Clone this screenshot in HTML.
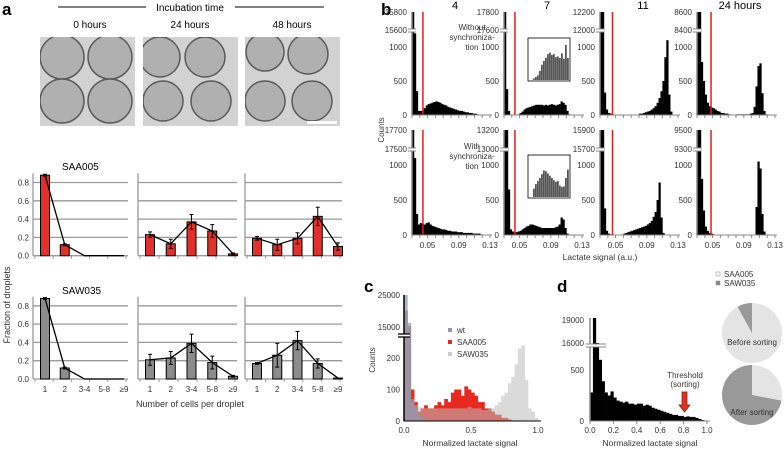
<!DOCTYPE html>
<html><head><meta charset="utf-8"><style>
body{margin:0;background:#fff}
svg{display:block;font-family:"Liberation Sans",Arial,sans-serif}
</style></head><body>
<svg id="fig" width="784" height="450" viewBox="0 0 784 450">
<g id="gA">
<text x="2" y="15" font-size="17" font-weight="bold">a</text>
<line x1="58" y1="7" x2="146" y2="7" stroke="#000" stroke-width="1"/>
<line x1="235" y1="7" x2="324" y2="7" stroke="#000" stroke-width="1"/>
<text x="190" y="11" font-size="10" text-anchor="middle">Incubation time</text>
<text x="90" y="28" font-size="10" text-anchor="middle">0 hours</text>
<text x="190" y="28" font-size="10" text-anchor="middle">24 hours</text>
<text x="292" y="28" font-size="10" text-anchor="middle">48 hours</text>
</g>
<g id="gB">
<text x="381" y="15" font-size="17" font-weight="bold">b</text>
</g>
<g id="gC"></g>
<g id="gD"></g>
</svg>
<script>
// ---------- panel a data ----------
const cellCats = ["1","2","3-4","5-8","≥9"];
const saa0 = [0.88,0.12,0,0,0];
const saa0e = [0.01,0.01,0,0,0];
const saa24 = [0.23,0.13,0.37,0.27,0.02];
const saa24e = [0.03,0.05,0.08,0.07,0.01];
const saa48 = [0.19,0.12,0.19,0.43,0.10];
const saa48e = [0.02,0.06,0.06,0.10,0.04];
const saw0 = [0.88,0.12,0,0,0];
const saw0e = [0.01,0.01,0,0,0];
const saw24 = [0.21,0.23,0.39,0.18,0.03];
const saw24e = [0.06,0.07,0.10,0.07,0.01];
const saw48 = [0.17,0.26,0.42,0.17,0.01];
const saw48e = [0.01,0.13,0.10,0.05,0.0];
const fracTicks = [0,0.2,0.4,0.6,0.8];
// ---------- panel b data (bins of 0.0025 from 0.03) ----------
const bTicks = [0.05,0.09,0.13];
const bTitles = ["4","7","11","24 hours"];
const hTop4 = [15800,1200,350,60,60,60,100,140,160,170,180,190,200,190,180,160,150,140,120,110,100,90,80,70,60,60,50,40,40,30,30,20,20,10,5,0,0,0,0,0];
const hTop7 = [17800,380,60,0,0,0,0,10,30,50,80,100,110,120,130,140,150,150,150,150,140,150,140,150,160,150,140,150,160,200,180,150,60,10,0,0,0,0,0,0];
const hTop11 = [12200,12000,330,80,30,20,10,5,0,0,0,0,0,5,0,0,0,5,0,0,20,20,30,40,50,60,80,100,130,180,250,350,500,850,1100,300,50,0,0,0];
const hTop24 = [8600,8600,780,500,300,180,130,110,100,80,60,50,30,30,20,20,10,5,0,0,10,10,10,10,10,10,10,20,30,120,420,720,760,320,60,10,0,0,0,0];
const hBot4 = [17700,1100,300,150,170,160,150,170,180,150,130,120,110,100,90,80,80,70,60,60,50,50,50,40,40,40,30,30,30,30,30,20,20,20,20,10,0,0,0,0];
const hBot7 = [13200,13000,650,80,50,40,40,50,60,80,100,120,130,150,150,140,130,120,110,100,100,100,100,100,100,100,110,120,150,250,220,100,20,0,0,0,0,0,0,0];
const hBot11 = [15900,15700,380,60,20,10,0,0,0,0,0,0,20,30,40,50,60,70,80,90,100,110,120,130,150,170,200,260,330,500,750,250,30,0,0,0,0,0,0,0];
const hBot24 = [9500,9500,800,350,120,60,30,20,10,5,0,0,0,0,0,0,0,0,0,0,0,0,0,0,0,0,0,0,0,0,400,1050,950,300,50,0,0,0,0,0];
const redLines = [0.044,0.044,0.046,0.048];
const topBreakLabels = [["15800","15600"],["17800","17600"],["12200","12000"],["8600","8400"]];
const botBreakLabels = [["17700","17500"],["13200","13000"],["15900","15700"],["9500","9300"]];
const inset1 = [20,40,60,120,200,250,290,340,360,330,340,300,310,290,350,280,460,290];
const inset2 = [110,170,210,250,300,350,340,310,280,250,220,200,210,150,130,140,250,360];
// ---------- panel c data (bins of 0.025 from 0) ----------
const cWt = [25000,16000,70,40,20,10,0,0,0,0,0,0,0,0,0,0,0,0,0,0,0,0,0,0,0,0,0,0,0,0,0,0,0,0,0,0,0,0,0,0];
const cSaa = [20000,15000,100,60,30,40,50,40,40,50,60,50,70,60,90,100,100,80,110,100,90,80,60,60,40,40,30,20,20,10,10,5,0,0,0,0,0,0,0,0];
const cSaw = [20000,15000,60,50,45,40,40,40,40,40,40,40,40,40,40,40,40,40,40,45,40,40,40,35,35,40,40,50,60,80,90,120,140,180,230,240,130,40,30,10];
const cTicksX = [0,0.5,1.0];
const cTicksY = [0,100,200];
// ---------- panel d data ----------
const dHist = [280,19000,16000,600,390,280,250,290,230,200,190,180,190,170,170,160,170,170,150,160,150,130,120,110,100,90,80,70,60,60,50,50,40,45,40,40,30,20,10,0];
const dTicksX = [0,0.2,0.4,0.6,0.8,1.0];
const pieBefore = [0.92,0.08];
const pieAfter = [0.28,0.72];

const NS="http://www.w3.org/2000/svg";
function mk(parent,tag,attrs,text){const e=document.createElementNS(NS,tag);for(const k in attrs)e.setAttribute(k,attrs[k]);if(text!==undefined)e.textContent=text;parent.appendChild(e);return e;}
const gA=document.getElementById('gA'),gB=document.getElementById('gB'),gC=document.getElementById('gC'),gD=document.getElementById('gD');

// micrographs
const micro=[[40,[[62,57,22],[110,57,22],[62,101,22],[110,101,22]]],[143,[[160,57,20],[205,57,20],[163,101,20],[211,101,20]]],[245,[[265,52,19],[308,54,20],[265,101,20],[312,101,20]]]];
micro.forEach((m,i)=>{
 const g=mk(gA,'g',{});
 
 
 mk(g,'rect',{x:m[0],y:37,width:95,height:89,fill:'#d2d2d2'});
 const cpE=mk(g,'clipPath',{id:'cp'+i});
 mk(cpE,'rect',{x:m[0],y:37,width:95,height:89});
 const gg=mk(g,'g',{'clip-path':'url(#cp'+i+')'});
 m[1].forEach(c=>{mk(gg,'circle',{cx:c[0],cy:c[1],r:c[2],fill:'#b0b0b0',stroke:'#5a5a5a','stroke-width':1.5});});
});
const sb=mk(gA,'rect',{x:307,y:121,width:30,height:3,fill:'#fff'});



// bar charts
function barPanel(x0,w,y0,vals,errs,color,showY,name){
 const g=mk(gA,'g',{});
 
 
 const ky=18.3/0.2;
 const Y=v=>y0-v*ky;
 const X=i=>x0+12+i*(w-16)/4;
 fracTicks.forEach(t=>{ if(t>0) mk(g,'line',{x1:x0,x2:x0+w,y1:Y(t),y2:Y(t),stroke:'#999','stroke-width':1.3});
  if(showY){const tl=mk(g,'text',{x:x0-4,y:Y(t)+3,'font-size':8,'text-anchor':'end',fill:'#333'},t.toFixed(1));}});
 mk(g,'line',{x1:x0,x2:x0,y1:Y(0.9),y2:y0,stroke:'#999','stroke-width':1.3});
 mk(g,'line',{x1:x0,x2:x0+w,y1:y0,y2:y0,stroke:'#999','stroke-width':1.3});
 for(let i=0;i<=5;i++){const tx=x0+2+i*(w-4)/5;mk(g,'line',{x1:tx,x2:tx,y1:y0,y2:y0+3,stroke:'#999'});}
 const pts=[];
 vals.forEach((v,i)=>{
  const b=mk(g,'rect',{x:X(i)-4.5,y:Y(v),width:9,height:y0-Y(v),fill:color,stroke:'#000','stroke-width':1});
  
  
  if(errs[i]>0){mk(g,'line',{x1:X(i),x2:X(i),y1:Y(v+errs[i]),y2:Y(v-errs[i]),stroke:'#000','stroke-width':1});
   mk(g,'line',{x1:X(i)-2,x2:X(i)+2,y1:Y(v+errs[i]),y2:Y(v+errs[i]),stroke:'#000'});
   mk(g,'line',{x1:X(i)-2,x2:X(i)+2,y1:Y(v-errs[i]),y2:Y(v-errs[i]),stroke:'#000'});}
  pts.push(X(i)+','+Y(v));
 });
 mk(g,'polyline',{points:pts.join(' '),fill:'none',stroke:'#000','stroke-width':1.3});
 return {g,X};
}
const px=[[33,95],[138,99],[245,97]];
const topSets=[[saa0,saa0e],[saa24,saa24e],[saa48,saa48e]];
const botSets=[[saw0,saw0e],[saw24,saw24e],[saw48,saw48e]];
topSets.forEach((s,i)=>barPanel(px[i][0],px[i][1],255.7,s[0],s[1],'#e2312a',i==0,'saa005-chart-'+i));
botSets.forEach((s,i)=>{const r=barPanel(px[i][0],px[i][1],379,s[0],s[1],'#8c8c8c',i==0,'saw035-chart-'+i);
 cellCats.forEach((c,j)=>{const t=mk(gA,'text',{x:r.X(j),y:392,'font-size':8,'text-anchor':'middle',fill:'#333'},c);});});
[['SAA005',170],['SAW035',294]].forEach(a=>{const t=mk(gA,'text',{x:62,y:a[1],'font-size':10},a[0]);});
let t=mk(gA,'text',{x:190,y:407,'font-size':9,'text-anchor':'middle',fill:'#333'},'Number of cells per droplet');

t=mk(gA,'text',{x:0,y:0,'font-size':9,'text-anchor':'middle',fill:'#333',transform:'translate(10,305) rotate(-90)'},'Fraction of droplets');


// panel b
const bx=[412,504,600,697];
const topData=[hTop4,hTop7,hTop11,hTop24],botData=[hBot4,hBot7,hBot11,hBot24];
function histB(col,row,data){
 const x0=bx[col];const y0=row?235:115;const top=row?130:12;const brk=row?149:30;const k=row?35/500:34/500;
 const g=mk(gB,'g',{});
 
 
 const X=v=>x0+(v-0.03)*780;
 data.forEach((v,i)=>{const h=v>1200?y0-top:v*k; if(h>0){const r=mk(g,'rect',{x:X(0.03+i*0.0025),y:y0-h,width:1.95+0.3,height:h,fill:'#000'});}});
 mk(g,'line',{x1:x0,x2:x0,y1:top,y2:y0,stroke:'#888','stroke-width':1.5});
 mk(g,'rect',{x:x0-4,y:brk-1,width:8,height:3,fill:'#fff'});
 mk(g,'line',{x1:x0-4,x2:x0+4,y1:brk-1,y2:brk-1,stroke:'#888'});mk(g,'line',{x1:x0-4,x2:x0+4,y1:brk+2,y2:brk+2,stroke:'#888'});
 mk(g,'line',{x1:x0,x2:x0+80,y1:y0,y2:y0,stroke:'#888','stroke-width':1});
 for(let v=0.03;v<0.1301;v+=0.01)mk(g,'line',{x1:X(v),x2:X(v),y1:y0,y2:y0+3,stroke:'#888'});
 [0,500,1000].forEach(tv=>{const l=mk(g,'text',{x:x0-5,y:y0-tv*k+3,'font-size':8,'text-anchor':'end',fill:'#333'},tv);});
 const bl=row?botBreakLabels[col]:topBreakLabels[col];
 const l1=mk(g,'text',{x:x0-5,y:top+3,'font-size':8,'text-anchor':'end',fill:'#333'},bl[0]);
 const l2=mk(g,'text',{x:x0-5,y:brk+3,'font-size':8,'text-anchor':'end',fill:'#333'},bl[1]);
 const rl=mk(g,'line',{x1:X(redLines[col]),x2:X(redLines[col]),y1:top,y2:y0,stroke:'#e0201a','stroke-width':1.5});
 
 if(row){bTicks.forEach(v=>{const l=mk(g,'text',{x:X(v),y:248,'font-size':8,'text-anchor':'middle',fill:'#333'},v.toFixed(2));});}
 else{const l=mk(g,'text',{x:x0+43,y:9,'font-size':11,'text-anchor':'middle'},bTitles[col]);}
}
for(let c=0;c<4;c++){histB(c,0,topData[c]);histB(c,1,botData[c]);}
function inset(y,data,name){const g=mk(gB,'g',{});
 mk(g,'rect',{x:528,y:y,width:42,height:43,fill:'#fff',stroke:'#000','stroke-width':0.8});
 const k=38/500;data.forEach((v,i)=>{mk(g,'rect',{x:533+i*2,y:y+42-v*k,width:1.8,height:v*k,fill:'#555'});});}
inset(38,inset1,'inset-7h-nosync');inset(155,inset2,'inset-7h-sync');
[['Without',472,30],['synchroniza-',472,40],['tion',472,50],['With',472,149],['synchroniza-',472,159],['tion',472,169]].forEach(a=>{const l=mk(gB,'text',{x:a[1],y:a[2],'font-size':8,'text-anchor':'middle',fill:'#333'},a[0]);});
t=mk(gB,'text',{x:0,y:0,'font-size':8,'text-anchor':'middle',fill:'#333',transform:'translate(384,130) rotate(-90)'},'Counts');
t=mk(gB,'text',{x:600,y:260,'font-size':8.5,'text-anchor':'middle',fill:'#333'},'Lactate signal (a.u.)');

// panel c
t=mk(gC,'text',{x:364,y:292,'font-size':17,'font-weight':'bold'},'c');
const cx0=404,cy0=421,cW=134,cK=31.5/100,cTop=295;
const CX=v=>cx0+v*cW;
function cBars(data,fill,op,name){const g=mk(gC,'g',{opacity:op});
 data.forEach((v,i)=>{const h=v>1000?(v>20000?cy0-cTop:cy0-cTop-(25000-v)*31/10000):v*cK;if(h>0){const r=mk(g,'rect',{x:CX(i*0.025),y:cy0-h,width:cW*0.025+0.4,height:h,fill:fill});}});}
cBars(cSaa,'#e8291f',1,'series-saa005');
cBars(cSaw,'#bdbdbd',0.55,'series-saw035');
cBars(cWt,'#8a9bb5',0.7,'series-wt');
mk(gC,'line',{x1:cx0,x2:cx0,y1:cTop,y2:cy0,stroke:'#000','stroke-width':1.5});
mk(gC,'rect',{x:cx0-6,y:334,width:12,height:3,fill:'#fff'});
mk(gC,'line',{x1:cx0-6,x2:cx0+6,y1:334,y2:334,stroke:'#000','stroke-width':1.3});mk(gC,'line',{x1:cx0-6,x2:cx0+6,y1:337,y2:337,stroke:'#000','stroke-width':1.3});
mk(gC,'line',{x1:cx0,x2:cx0+137,y1:cy0,y2:cy0,stroke:'#000'});
cTicksY.forEach(v=>{const l=mk(gC,'text',{x:cx0-4,y:cy0-v*cK+3,'font-size':8,'text-anchor':'end',fill:'#333'},v);});
[['25000',298],['15000',330]].forEach(a=>{const l=mk(gC,'text',{x:cx0-4,y:a[1],'font-size':8,'text-anchor':'end',fill:'#333'},a[0]);});
cTicksX.forEach(v=>{const l=mk(gC,'text',{x:CX(v),y:433,'font-size':8,'text-anchor':'middle',fill:'#333'},v.toFixed(1));});
t=mk(gC,'text',{x:0,y:0,'font-size':8,'text-anchor':'middle',fill:'#333',transform:'translate(375,360) rotate(-90)'},'Counts');
t=mk(gC,'text',{x:470,y:446,'font-size':8.5,'text-anchor':'middle',fill:'#333'},'Normalized lactate signal');
[['wt','#8a9bb5',333],['SAA005','#e8291f',345],['SAW035','#cfcfcf',357]].forEach(a=>{const g=mk(gC,'g',{});mk(g,'rect',{x:448,y:a[2]-5,width:4,height:4,fill:a[1]});mk(g,'text',{x:457,y:a[2],'font-size':8,fill:'#333'},a[0]);});

// panel d
t=mk(gD,'text',{x:557,y:292,'font-size':17,'font-weight':'bold'},'d');
const dx0=590,dy0=421,dW=117,dK=51/500,dTop=318;
const DX=v=>dx0+v*dW;
dHist.forEach((v,i)=>{const h=v>1000?(v>=19000?dy0-dTop:dy0-343):v*dK;if(h>0){const r=mk(gD,'rect',{x:DX(i*0.025),y:dy0-h,width:dW*0.025+0.3,height:h,fill:'#000'});}});
mk(gD,'line',{x1:dx0,x2:dx0,y1:dTop,y2:dy0,stroke:'#888','stroke-width':1.5});
mk(gD,'rect',{x:dx0-4,y:344,width:20,height:3,fill:'#fff'});
mk(gD,'line',{x1:dx0-4,x2:dx0+16,y1:344,y2:344,stroke:'#888'});mk(gD,'line',{x1:dx0-4,x2:dx0+16,y1:347,y2:347,stroke:'#888'});
mk(gD,'line',{x1:dx0,x2:dx0+120,y1:dy0,y2:dy0,stroke:'#888'});
dTicksX.forEach(v=>{mk(gD,'line',{x1:DX(v),x2:DX(v),y1:dy0,y2:dy0+3,stroke:'#888'});const l=mk(gD,'text',{x:DX(v),y:433,'font-size':8,'text-anchor':'middle',fill:'#333'},v.toFixed(1));});
[['0',424],['500',373],['16000',346],['19000',323]].forEach(a=>{const l=mk(gD,'text',{x:dx0-6,y:a[1],'font-size':8,'text-anchor':'end',fill:'#333'},a[0]);});
t=mk(gD,'text',{x:650,y:446,'font-size':8.5,'text-anchor':'middle',fill:'#333'},'Normalized lactate signal');
t=mk(gD,'text',{x:685,y:378,'font-size':8,'text-anchor':'middle',fill:'#333'},'Threshold');
t=mk(gD,'text',{x:685,y:387,'font-size':8,'text-anchor':'middle',fill:'#333'},'(sorting)');
t=mk(gD,'path',{d:'M682 392 h5 v13 h3 l-5.5 7 l-5.5 -7 h3 z',fill:'#e0301e',stroke:'#7a1a10','stroke-width':0.7});
// pies
function pie(cy,fr,name,label,ly){const g=mk(gD,'g',{});
 const cx=752,r=30;mk(g,'circle',{cx:cx,cy:cy,r:r,fill:'#e4e4e4'});
 const a=fr[0]*2*Math.PI;const x=cx+r*Math.sin(a),y=cy-r*Math.cos(a);
 mk(g,'path',{d:`M${cx} ${cy} L${x} ${y} A${r} ${r} 0 ${fr[1]>0.5?1:0} 1 ${cx} ${cy-r} Z`,fill:'#999'});
 mk(g,'text',{x:cx,y:ly,'font-size':8,'text-anchor':'middle',fill:'#333'},label);}
pie(333,pieBefore,'pie-before-sorting','Before sorting',345);
pie(395,pieAfter,'pie-after-sorting','After sorting',415);
[['SAA005','#fff',277],['SAW035','#888',286]].forEach(a=>{const g=mk(gD,'g',{});mk(g,'rect',{x:716,y:a[2]-5,width:4,height:4,fill:a[1],stroke:'#888','stroke-width':0.5});mk(g,'text',{x:724,y:a[2],'font-size':8,fill:'#333'},a[0]);});
</script>
</body></html>
